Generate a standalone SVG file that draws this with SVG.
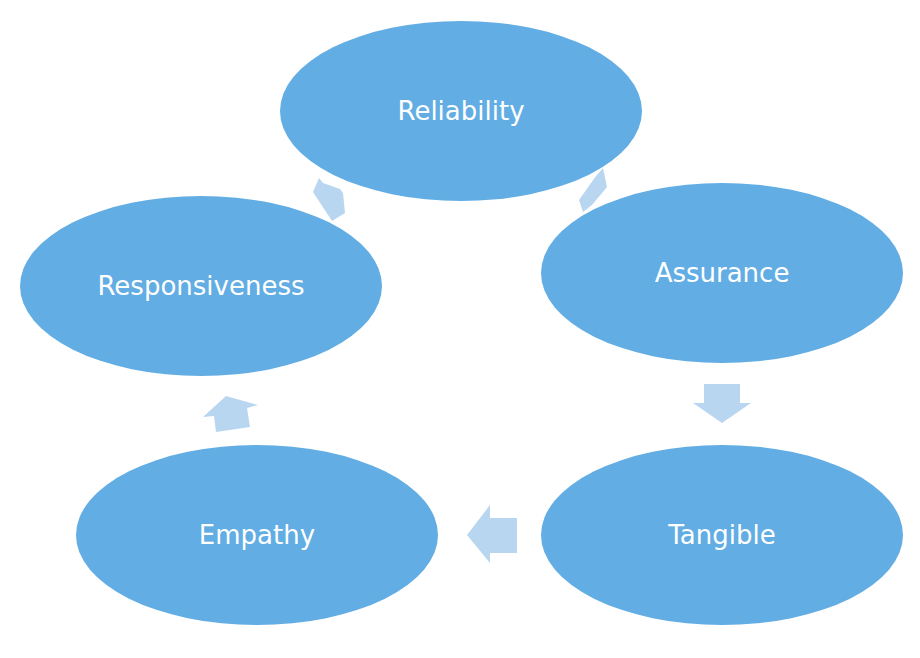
<svg xmlns="http://www.w3.org/2000/svg" width="920" height="658" viewBox="0 0 920 658">
<style>
.node{fill:#62ade3;}
.arrow{fill:#b9d6f1;}
.lbl{font-family:"DejaVu Sans","Verdana",sans-serif;font-size:26px;fill:#ffffff;text-anchor:middle;}
</style>
<rect width="920" height="658" fill="#ffffff"/>
<g id="connectors">
<polygon class="arrow" points="319,178 323,183 340,189 343,193 345,213 332,221 313,192"/>
<polygon class="arrow" points="596,176 603,168 607,187 592,205 583,212 579,200"/>
<polygon class="arrow" points="704,384 740,384 740,403 751,403 722,423 693,403 704,403"/>
<polygon class="arrow" points="517,518 517,553 490,553 490,563 467,535 490,505 490,518"/>
<polygon class="arrow" points="226,396 258,405 247,408 250,427 216,432 214,416 203,417"/>
</g>
<g id="reliability"><ellipse class="node" cx="461" cy="111" rx="181" ry="90"/><text class="lbl" x="461" y="120">Reliability</text></g>
<g id="assurance"><ellipse class="node" cx="722" cy="273" rx="181" ry="90"/><text class="lbl" x="722" y="282">Assurance</text></g>
<g id="tangible"><ellipse class="node" cx="722" cy="535" rx="181" ry="90"/><text class="lbl" x="722" y="544">Tangible</text></g>
<g id="empathy"><ellipse class="node" cx="257" cy="535" rx="181" ry="90"/><text class="lbl" x="257" y="544">Empathy</text></g>
<g id="responsiveness"><ellipse class="node" cx="201" cy="286" rx="181" ry="90"/><text class="lbl" x="201" y="295">Responsiveness</text></g>
</svg>
